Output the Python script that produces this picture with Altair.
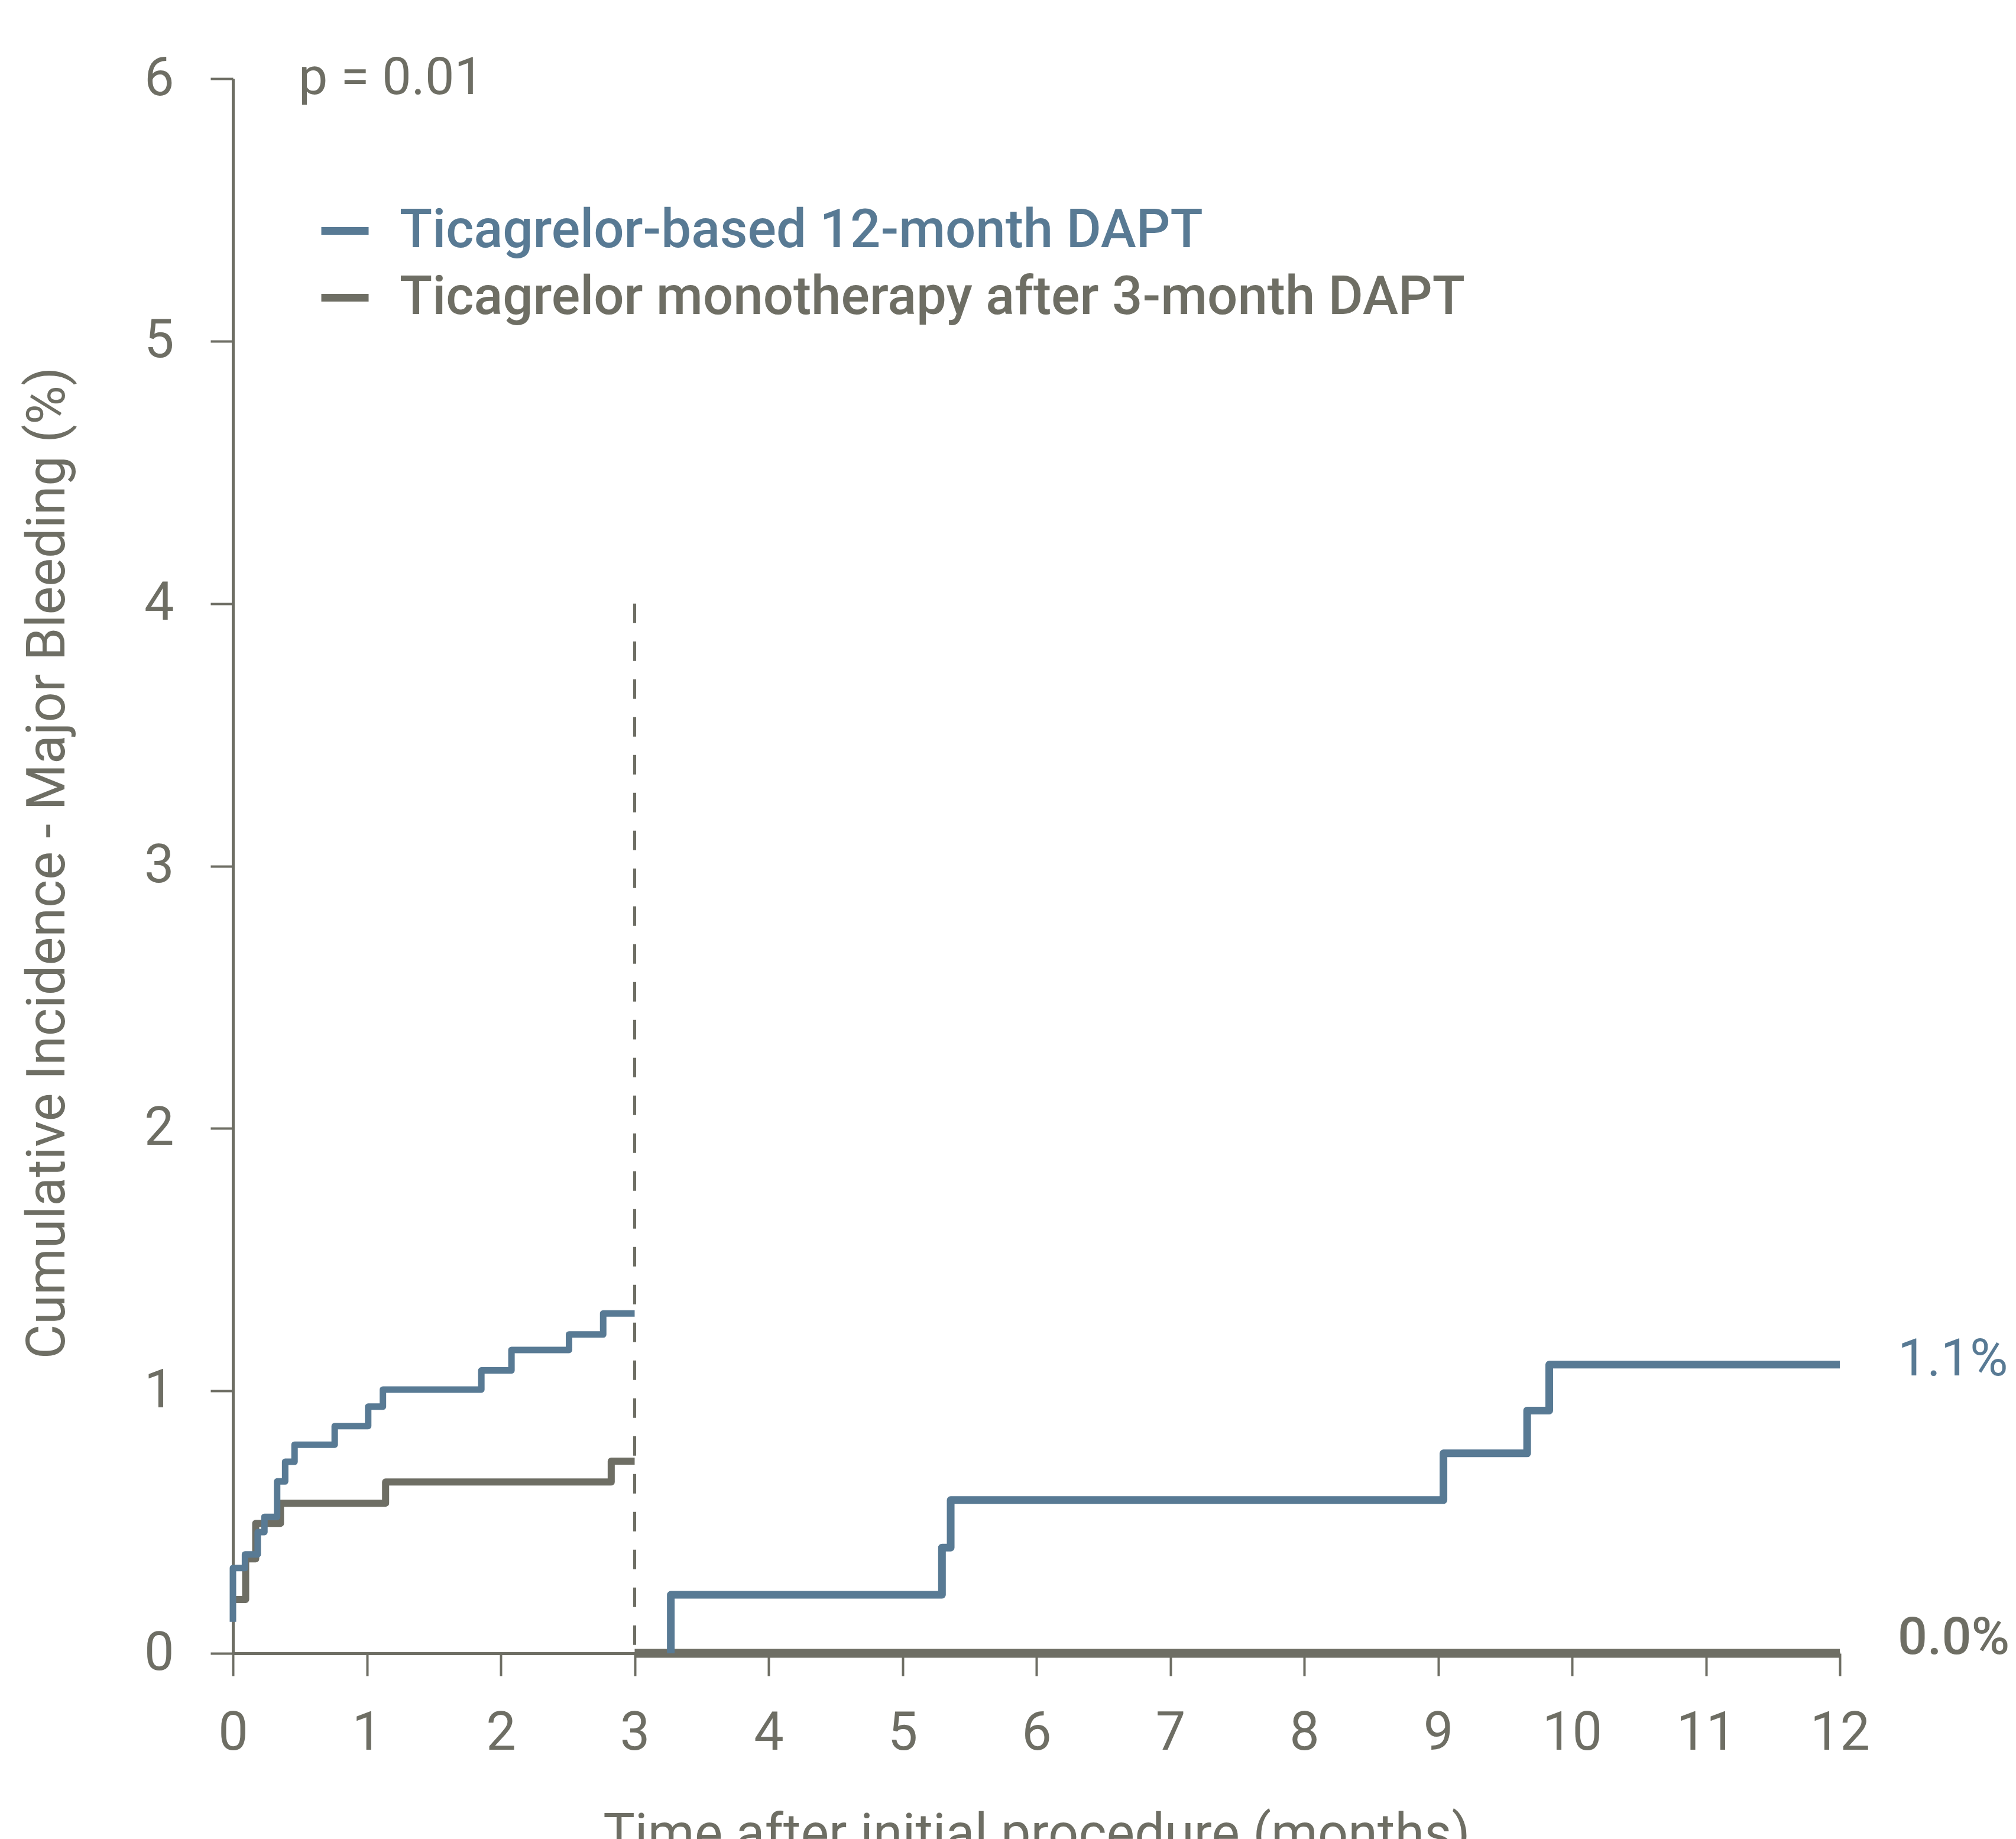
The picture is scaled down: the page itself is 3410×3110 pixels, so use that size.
import altair as alt
import pandas as pd

# ---- colours -------------------------------------------------------------
BLUE = "#587a94"
GRAY = "#6e6e64"
FONT = "Roboto"

SERIES = ["Ticagrelor-based 12-month DAPT", "Ticagrelor monotherapy after 3-month DAPT"]

# ---- cumulative incidence steps (months, %) ---------------------------------
# DAPT arm, months 0-3
dapt_early_t = [0, 0, 0.09, 0.185, 0.235, 0.33, 0.39, 0.46, 0.76, 1.01, 1.12, 1.855, 2.08, 2.51, 2.765, 3.0]
dapt_early_v = [0.12, 0.325, 0.377, 0.462, 0.52, 0.655, 0.73, 0.795, 0.866, 0.94, 1.005, 1.078, 1.156, 1.215, 1.295, 1.295]
# DAPT arm, landmark analysis months 3-12
dapt_late_t = [3.27, 3.27, 5.295, 5.36, 9.04, 9.665, 9.83, 12.0]
dapt_late_v = [0.0, 0.223, 0.403, 0.584, 0.762, 0.925, 1.1, 1.1]
# monotherapy arm, months 0-3
mono_early_t = [0, 0.095, 0.17, 0.355, 1.14, 2.825, 3.0]
mono_early_v = [0.205, 0.36, 0.495, 0.572, 0.653, 0.732, 0.732]
# monotherapy arm, months 3-12
mono_late_t = [3.0, 12.0]
mono_late_v = [0.0, 0.0]

# final estimates at 12 months
end_blue = [1.1]
end_gray = [0.0]

x_ticks = list(range(0, 13))
y_ticks = list(range(0, 7))
landmark = [3]


def segment(ts, vs, series, seg, width):
    return pd.DataFrame({
        "t": ts, "v": vs, "series": series, "seg": seg,
        "w": width, "idx": list(range(len(ts))),
    })


blue_df = pd.concat([
    segment(dapt_early_t, dapt_early_v, SERIES[0], "a", 11),
    segment(dapt_late_t, dapt_late_v, SERIES[0], "b", 13),
])
gray_df = pd.concat([
    segment(mono_early_t, mono_early_v, SERIES[1], "c", 12),
    segment(mono_late_t, mono_late_v, SERIES[1], "d", 15),
])

x_scale = alt.Scale(domain=[0, 12], nice=False, zero=False)
y_scale = alt.Scale(domain=[0, 6], nice=False)

x_enc = alt.X(
    "t:Q", scale=x_scale,
    axis=alt.Axis(
        values=x_ticks, format="d", labelOverlap=False, labelLimit=400,
        labelFlush=False,
        title="Time after initial procedure (months)",
        titleBaseline="alphabetic", titleY=334, titleAnchor="middle",
        labelPadding=53,
    ),
)
y_enc = alt.Y(
    "v:Q", scale=y_scale,
    axis=alt.Axis(
        values=y_ticks, format="d", labelOverlap=False, labelFlush=False,
        title="Cumulative Incidence - Major Bleeding (%)",
        titleAngle=-90, titleBaseline="alphabetic", titleX=-286, titleY=1326,
        titleAlign="center", labelPadding=62,
    ),
)

color_enc = alt.Color(
    "series:N",
    scale=alt.Scale(domain=SERIES, range=[BLUE, GRAY]),
    legend=alt.Legend(
        title=None, orient="none", legendX=143, legendY=211,
        symbolType="stroke", symbolSize=6400, symbolStrokeWidth=13,
        labelFontSize=90.5, labelFont=FONT, labelFontWeight=500,
        labelOffset=46, rowPadding=21, labelLimit=0, padding=0,
        labelColor=alt.ExprRef(
            expr=f"datum.label == '{SERIES[0]}' ? '{BLUE}' : '{GRAY}'"
        ),
    ),
)


def steps(df):
    return alt.Chart(df).mark_line(
        interpolate="step-after", strokeJoin="round", strokeCap="butt"
    ).encode(
        x=x_enc, y=y_enc, color=color_enc,
        detail="seg:N",
        order=alt.Order("idx:Q"),
        strokeWidth=alt.StrokeWidth("w:Q", scale=None, legend=None),
    )


rule = alt.Chart(pd.DataFrame({"t": landmark, "v": [0], "v2": [4]})).mark_rule(
    color=GRAY, strokeWidth=5, strokeDash=[33, 31]
).encode(x=alt.X("t:Q", scale=x_scale), y=alt.Y("v2:Q", scale=y_scale), y2="v:Q")

pval = alt.Chart(pd.DataFrame({"t": [0.49], "v": [6.0], "label": ["p = 0.01"]})).mark_text(
    align="left", baseline="middle", fontSize=88, font=FONT, color=GRAY
).encode(x=alt.X("t:Q", scale=x_scale), y=alt.Y("v:Q", scale=y_scale), text="label:N")

end_b = alt.Chart(pd.DataFrame({"t": [12.0], "v": end_blue,
                                "label": [f"{v:.1f}%" for v in end_blue]})).mark_text(
    align="left", baseline="middle", dx=98, dy=-8, fontSize=88, font=FONT, color=BLUE
).encode(x=alt.X("t:Q", scale=x_scale), y=alt.Y("v:Q", scale=y_scale), text="label:N")

end_g = alt.Chart(pd.DataFrame({"t": [12.0], "v": end_gray,
                                "label": [f"{v:.1f}%" for v in end_gray]})).mark_text(
    align="left", baseline="middle", dx=98, dy=-25, fontSize=88, font=FONT,
    fontWeight=500, color=GRAY
).encode(x=alt.X("t:Q", scale=x_scale), y=alt.Y("v:Q", scale=y_scale), text="label:N")

chart = alt.layer(rule, steps(gray_df), steps(blue_df), pval, end_b, end_g).properties(
    width=2718, height=2663,
    autosize=alt.AutoSizeParams(type="none"),
    padding={"left": 394, "top": 133, "right": 298, "bottom": 314},
).configure_view(stroke=None).configure_axis(
    grid=False, domainColor=GRAY, domainWidth=5, tickColor=GRAY, tickWidth=4,
    tickSize=38, labelColor=GRAY, labelFont=FONT, labelFontSize=90,
    labelFontWeight="normal", titleColor=GRAY, titleFont=FONT, titleFontSize=90,
    titleFontWeight="normal",
).configure_axisY(domainCap="butt")

chart.save("out.html", embed_options={"renderer": "svg", "actions": False})
